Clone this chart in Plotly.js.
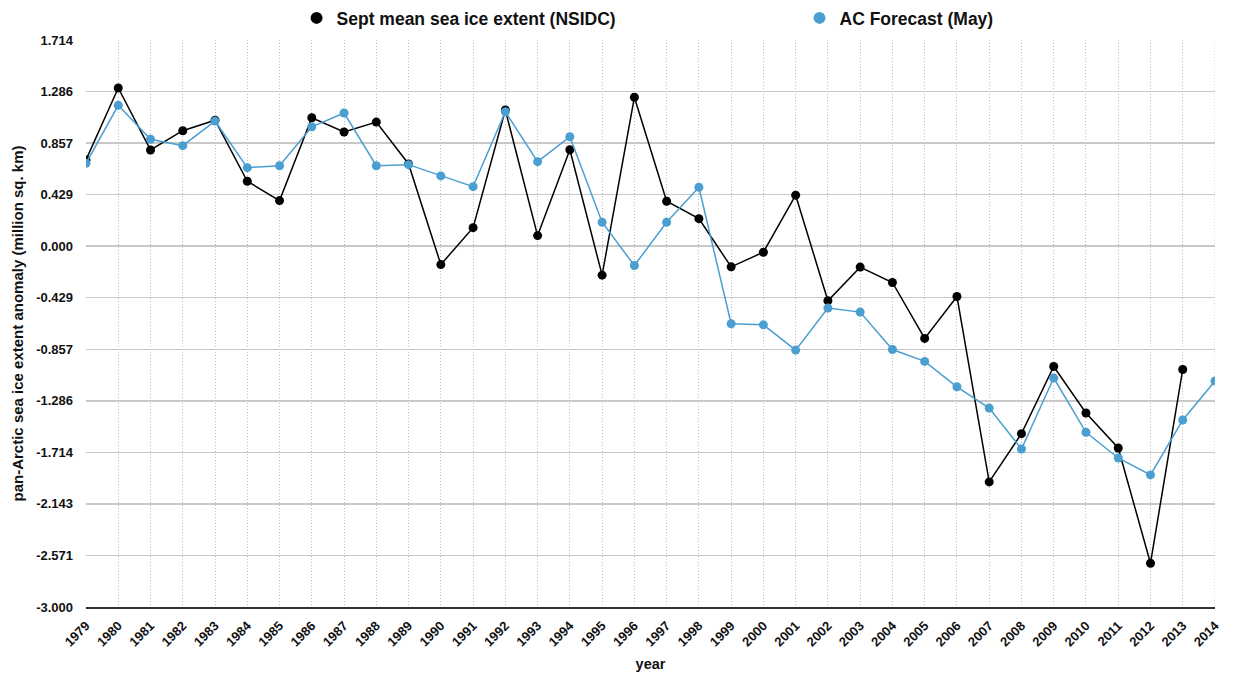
<!DOCTYPE html>
<html>
<head>
<meta charset="utf-8">
<script src="https://cdn.plot.ly/plotly-3.0.1.min.js"></script>
<style>html,body{margin:0;padding:0;background:#fff;}#chart{width:1238px;height:677px;}</style>
</head>
<body>
<div id="chart"></div>
<script>
const years = [1979,1980,1981,1982,1983,1984,1985,1986,1987,1988,1989,1990,1991,1992,1993,1994,1995,1996,1997,1998,1999,2000,2001,2002,2003,2004,2005,2006,2007,2008,2009,2010,2011,2012,2013,2014];
const nsidc = [0.717,1.315,0.800,0.960,1.047,0.540,0.379,1.068,0.949,1.032,0.684,-0.153,0.154,1.132,0.088,0.802,-0.241,1.238,0.374,0.229,-0.172,-0.050,0.424,-0.454,-0.174,-0.302,-0.767,-0.418,-1.960,-1.559,-1.000,-1.387,-1.678,-2.636,-1.025,null];
const acForecast = [0.689,1.171,0.889,0.836,1.040,0.653,0.669,0.993,1.107,0.669,0.678,0.584,0.495,1.118,0.703,0.910,0.199,-0.161,0.199,0.490,-0.645,-0.654,-0.864,-0.515,-0.548,-0.859,-0.958,-1.169,-1.346,-1.686,-1.096,-1.548,-1.761,-1.902,-1.445,-1.121];
const seriesNames = ["Sept mean sea ice extent (NSIDC)", "AC Forecast (May)"];
const yTickLabels = ["-3.000","-2.571","-2.143","-1.714","-1.286","-0.857","-0.429","0.000","0.429","0.857","1.286","1.714"];
const colors = ["#000000", "#4a9fd0"];

const yTickVals = yTickLabels.map((_, k) => -3 + k * 3 / 7);

const font = {family: "Liberation Sans, Arial, sans-serif", color: "#111"};
const bold = (s) => Object.assign({size: s, weight: "bold"}, font);

const series = [nsidc, acForecast];
const traces = [];
series.forEach((vals, i) => {
  traces.push({x: years, y: vals, type: "scatter", mode: "lines", showlegend: false,
    line: {color: colors[i], width: 1.5}, hoverinfo: "skip"});
  traces.push({x: years, y: vals, name: seriesNames[i], type: "scatter", mode: "markers",
    legend: i === 0 ? "legend" : "legend2",
    marker: {color: colors[i], size: 9}});
});

const legendBase = {orientation: "h", xanchor: "left", yanchor: "middle", y: 1.0388,
  font: bold(17.5), bgcolor: "rgba(0,0,0,0)", borderwidth: 0, itemsizing: "constant"};

const layout = {
  width: 1238, height: 677,
  margin: {l: 86, r: 23, t: 40, b: 70, autoexpand: false},
  paper_bgcolor: "#fff", plot_bgcolor: "#fff",
  font: Object.assign({size: 12}, font),
  showlegend: true,
  legend: Object.assign({x: 0.1865}, legendBase),
  legend2: Object.assign({x: 0.632}, legendBase),
  xaxis: {
    range: [1979, 2014], tick0: 1979, dtick: 1, tickangle: -45,
    showgrid: true, gridcolor: "#bdbdbd", griddash: "1px,2px", gridwidth: 1,
    zeroline: false, showline: true, linecolor: "#333", linewidth: 2,
    ticks: "", tickfont: bold(13), ticklabelstandoff: 4,
    title: {text: "year", font: bold(14.5), standoff: 11}
  },
  yaxis: {
    range: [-3, -3 + 33/7], tickmode: "array", tickvals: yTickVals, ticktext: yTickLabels,
    showgrid: true, gridcolor: "#c8c8c8", gridwidth: 1.5,
    zeroline: false, showline: false, ticks: "",
    tickfont: bold(13), ticklabelstandoff: 12,
    title: {text: "pan-Arctic sea ice extent anomaly (million sq. km)", font: bold(15), standoff: 8}
  },
  shapes: [
    {type: "line", xref: "x", yref: "paper", x0: 2014, x1: 2014, y0: 0, y1: 1,
     line: {color: "#bdbdbd", width: 1, dash: "1px,2px"}}
  ]
};

Plotly.newPlot("chart", traces, layout, {displayModeBar: false, staticPlot: true});
</script>
</body>
</html>
